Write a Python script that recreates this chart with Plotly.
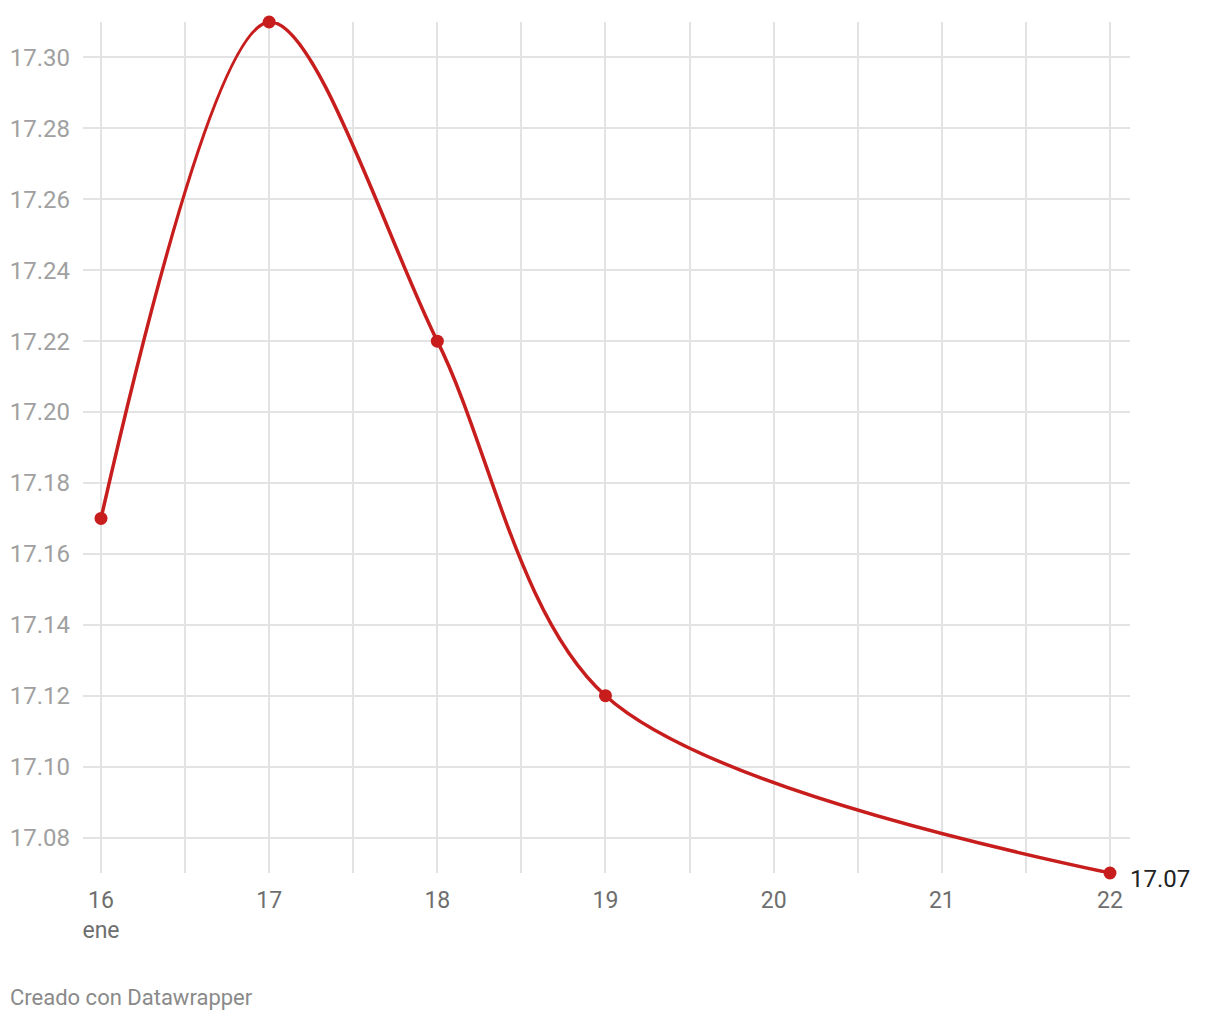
import plotly.graph_objects as go
from datetime import datetime, timedelta

dates = ["2023-01-16", "2023-01-17", "2023-01-18", "2023-01-19", "2023-01-22"]
values = [17.17, 17.31, 17.22, 17.12, 17.07]
x_tick_vals = ["2023-01-16", "2023-01-17", "2023-01-18", "2023-01-19", "2023-01-20", "2023-01-21", "2023-01-22"]
x_tick_text = ["16<br>ene", "17", "18", "19", "20", "21", "22"]
y_tick_vals = [17.08, 17.10, 17.12, 17.14, 17.16, 17.18, 17.20, 17.22, 17.24, 17.26, 17.28, 17.30]
y_tick_text = ["%.2f" % v for v in y_tick_vals]
last_label = "17.07"

RED = "#c71e1d"
FONT = "Roboto"

start = datetime(2023, 1, 16) - timedelta(hours=2.57)
end = datetime(2023, 1, 22) + timedelta(hours=2.86)

fig = go.Figure()
fig.add_trace(go.Scatter(
    x=dates, y=values, mode="lines+markers",
    line=dict(color=RED, width=3.5, shape="spline", smoothing=0.9),
    marker=dict(color=RED, size=13),
    cliponaxis=False, hoverinfo="skip", showlegend=False,
))

fig.add_annotation(
    x=dates[-1], y=values[-1], text=last_label, showarrow=False,
    xanchor="left", yanchor="middle", xshift=18, yshift=-6,
    font=dict(family=FONT, size=24, color="#222222"),
)

fig.add_annotation(
    x=0, y=0, xref="paper", yref="paper", xanchor="left", yanchor="top",
    text="Creado con Datawrapper", showarrow=False,
    font=dict(family=FONT, size=22, color="#8a8a8a"),
    xshift=-75, yshift=-110,
)

fig.update_layout(
    width=1212, height=1012,
    margin=dict(l=75, r=90, t=13.5, b=146.5, autoexpand=False),
    paper_bgcolor="white", plot_bgcolor="white",
    font=dict(family=FONT),
    xaxis=dict(
        type="date", range=[start, end], automargin=False,
        tickvals=x_tick_vals, ticktext=x_tick_text,
        showgrid=True, gridcolor="#e3e3e3", gridwidth=1.5,
        minor=dict(dtick=43200000, showgrid=True, gridcolor="#e3e3e3", gridwidth=1.5, tick0="2023-01-16"),
        zeroline=False, showline=False, ticks="",
        tickfont=dict(family=FONT, size=23, color="#6e6e6e"),
        ticklabelstandoff=11,
    ),
    yaxis=dict(
        range=[17.07, 17.31], automargin=False,
        tickvals=y_tick_vals, ticktext=y_tick_text,
        showgrid=True, gridcolor="#e3e3e3", gridwidth=1.5,
        zeroline=False, showline=False, ticks="",
        tickfont=dict(family=FONT, size=24, color="#a0a0a0"),
        ticklabelstandoff=12,
    ),
)

fig.write_html("out.html")
